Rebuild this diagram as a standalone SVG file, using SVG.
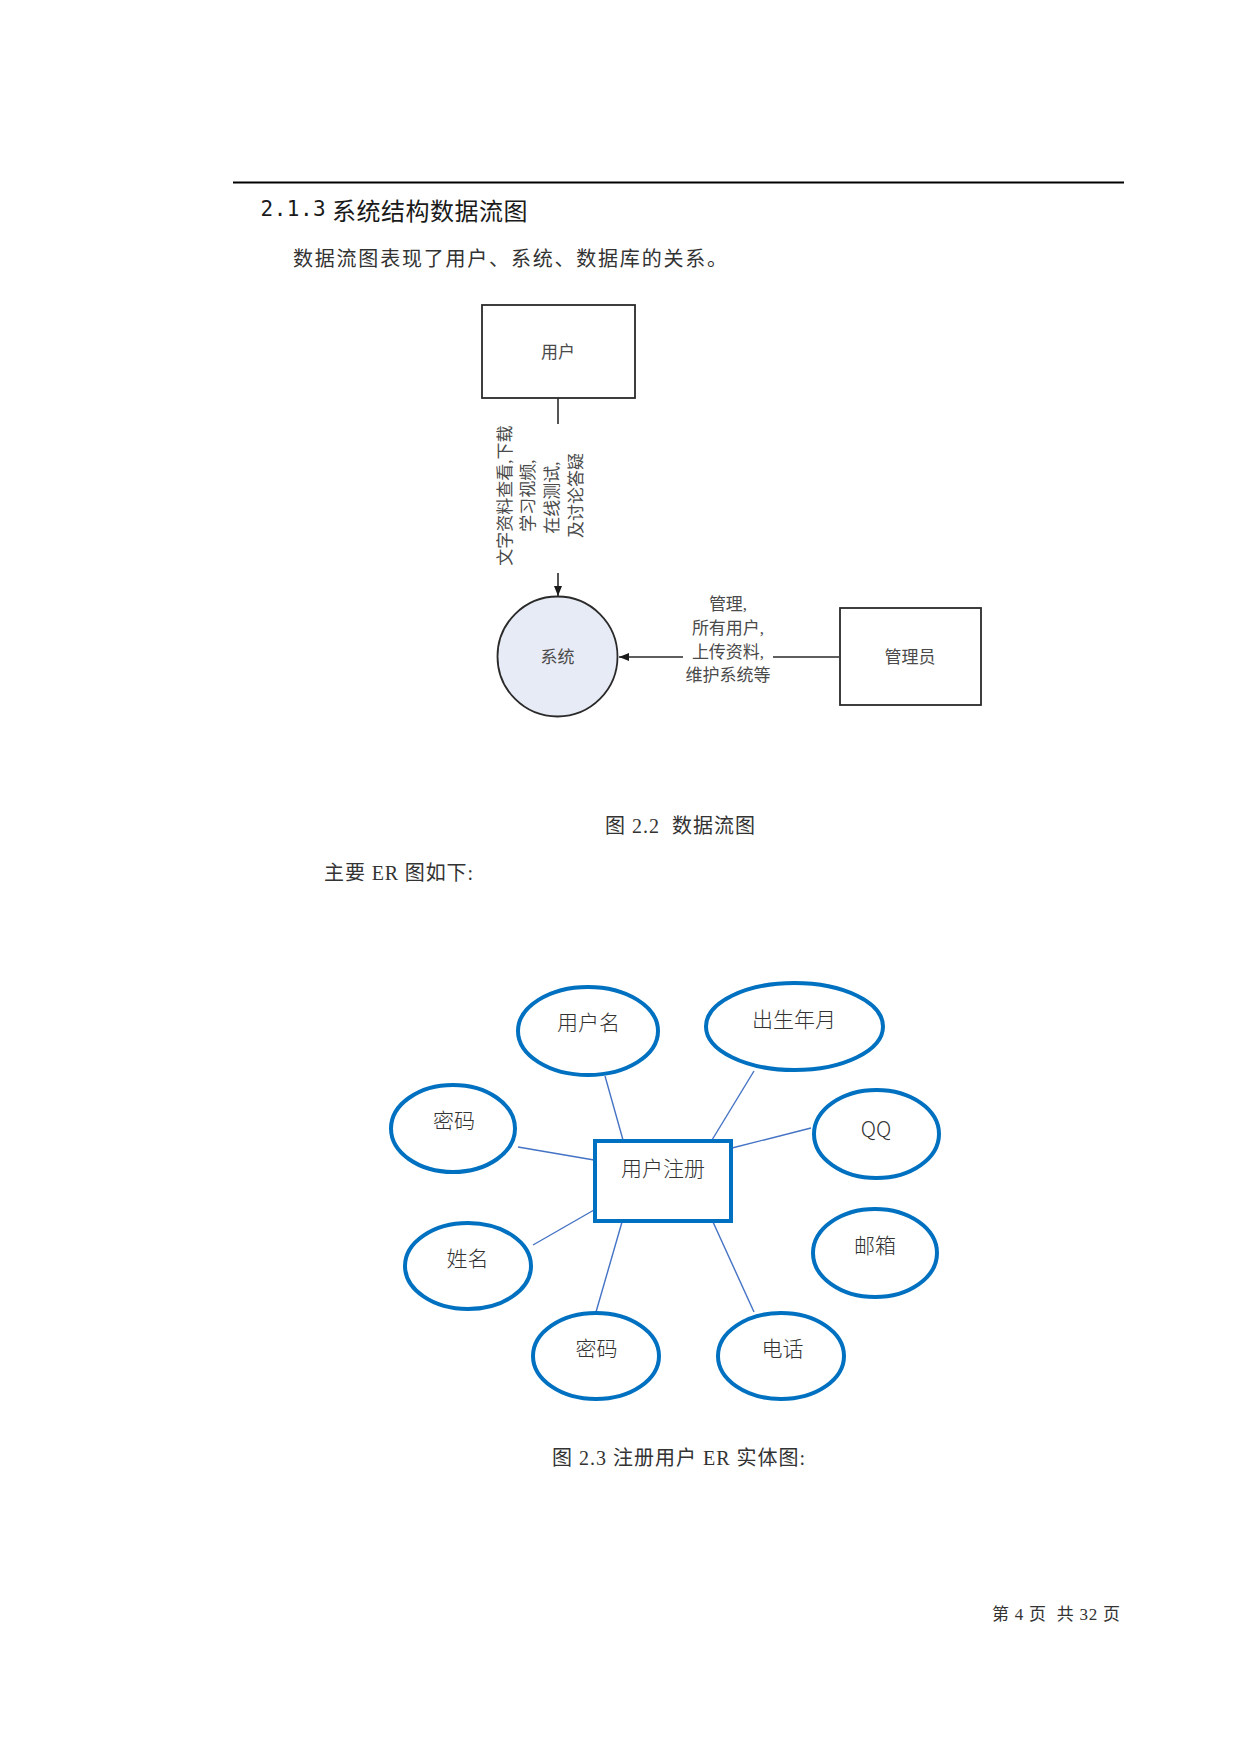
<svg xmlns="http://www.w3.org/2000/svg" width="1241" height="1754" viewBox="0 0 1241 1754">
<style>
.cjk{font-family:"Noto Sans CJK SC","Noto Sans",sans-serif}
.ser{font-family:"Liberation Serif","Noto Sans CJK SC",serif}
.dfd{font-family:"Liberation Serif","Noto Sans CJK SC",serif;font-size:17px;fill:#4a4a4a}
.box{fill:#fff;stroke:#2a2a2a;stroke-width:1.8}
.ell{fill:#fff;stroke:#0070C0;stroke-width:4}
.erl{font-family:"Noto Sans CJK SC","Noto Sans",sans-serif;font-size:21px;font-weight:300;fill:#333}
.ln{stroke:#2a2a2a;stroke-width:1.6;fill:none}
.erln{stroke:#4472C4;stroke-width:1.4;fill:none}
text{dominant-baseline:central}
</style>
<defs>
<marker id="arr" markerUnits="userSpaceOnUse" markerWidth="10" markerHeight="10" viewBox="0 0 10 10" refX="10" refY="5" orient="auto">
<path d="M0,1 L10,5 L0,9 Z" fill="#1a1a1a"/>
</marker>
</defs>
<rect width="1241" height="1754" fill="#fff"/>

<g id="header">
<line x1="233" y1="182.5" x2="1124" y2="182.5" stroke="#000" stroke-width="2.2"/>
<text x="260.5" y="209" font-size="24" fill="#1a1a1a" textLength="267" lengthAdjust="spacing"><tspan font-family="DejaVu Sans Mono,monospace" font-size="21">2.1.3</tspan><tspan class="cjk"> 系统结构数据流图</tspan></text>
<text class="cjk" x="293" y="257" font-size="20" fill="#333" textLength="434" lengthAdjust="spacing">数据流图表现了用户、系统、数据库的关系。</text>
</g>

<g id="connectors">
<line class="ln" x1="558" y1="398" x2="558" y2="424"/>
<line class="ln" x1="558" y1="573" x2="558" y2="596" marker-end="url(#arr)"/>
<line class="ln" x1="839" y1="657" x2="773" y2="657"/>
<line class="ln" x1="683" y1="657" x2="619" y2="657" marker-end="url(#arr)"/>
<line class="erln" x1="605" y1="1076" x2="623" y2="1140"/>
<line class="erln" x1="754" y1="1071" x2="712" y2="1140"/>
<line class="erln" x1="518" y1="1147" x2="594" y2="1160"/>
<line class="erln" x1="811" y1="1128" x2="732" y2="1148"/>
<line class="erln" x1="533" y1="1245" x2="594" y2="1210"/>
<line class="erln" x1="596" y1="1312" x2="622" y2="1222"/>
<line class="erln" x1="754" y1="1312" x2="713" y2="1222"/>
</g>

<g id="dfd-labels">
<text class="dfd" transform="translate(505,495.5) rotate(-90)" text-anchor="middle">文字资料查看,下载</text>
<text class="dfd" transform="translate(528,495.5) rotate(-90)" text-anchor="middle">学习视频,</text>
<text class="dfd" transform="translate(552,497.5) rotate(-90)" text-anchor="middle">在线测试,</text>
<text class="dfd" transform="translate(576,495.5) rotate(-90)" text-anchor="middle">及讨论答疑</text>
<text class="dfd" x="728" y="604" text-anchor="middle">管理,</text>
<text class="dfd" x="728" y="628" text-anchor="middle">所有用户,</text>
<text class="dfd" x="728" y="652" text-anchor="middle">上传资料,</text>
<text class="dfd" x="728" y="675" text-anchor="middle">维护系统等</text>
</g>

<g id="node-user">
<rect class="box" x="482" y="305" width="153" height="93"/>
<text class="dfd" x="558" y="352" text-anchor="middle" font-size="16">用户</text>
</g>
<g id="node-system">
<circle cx="557.5" cy="656.5" r="60" fill="#e7ebf5" stroke="#2a2a2a" stroke-width="1.8"/>
<text class="dfd" x="557.5" y="657" text-anchor="middle">系统</text>
</g>
<g id="node-admin">
<rect class="box" x="840" y="608" width="141" height="97"/>
<text class="dfd" x="910" y="657" text-anchor="middle">管理员</text>
</g>

<g id="captions">
<text class="ser" x="605" y="826" font-size="20" fill="#333" xml:space="preserve" textLength="150" lengthAdjust="spacing">图 2.2  数据流图</text>
<text class="ser" x="324" y="873" font-size="20" fill="#333" textLength="149" lengthAdjust="spacing">主要 ER 图如下:</text>
<text class="ser" x="552" y="1458" font-size="20" fill="#333" textLength="253" lengthAdjust="spacing">图 2.3 注册用户 ER 实体图:</text>
<text class="ser" x="992" y="1614" font-size="17" fill="#333" xml:space="preserve" textLength="128" lengthAdjust="spacing">第 4 页  共 32 页</text>
</g>

<g id="er-entity">
<rect x="595" y="1141" width="136" height="80" fill="#fff" stroke="#0070C0" stroke-width="4"/>
<text class="erl" x="663" y="1167" text-anchor="middle">用户注册</text>
</g>
<g id="er-username">
<ellipse class="ell" cx="588" cy="1031" rx="70" ry="44"/>
<text class="erl" x="588.5" y="1021" text-anchor="middle">用户名</text>
</g>
<g id="er-birth">
<ellipse class="ell" cx="794.5" cy="1026.5" rx="88.5" ry="43.5"/>
<text class="erl" x="794" y="1018" text-anchor="middle">出生年月</text>
</g>
<g id="er-password1">
<ellipse class="ell" cx="453" cy="1128.5" rx="62" ry="43.5"/>
<text class="erl" x="454" y="1119" text-anchor="middle">密码</text>
</g>
<g id="er-qq">
<ellipse class="ell" cx="876.5" cy="1134" rx="62.5" ry="44"/>
<text class="erl" x="876" y="1128" text-anchor="middle">QQ</text>
</g>
<g id="er-name">
<ellipse class="ell" cx="468" cy="1266" rx="63" ry="43"/>
<text class="erl" x="467.5" y="1257" text-anchor="middle">姓名</text>
</g>
<g id="er-email">
<ellipse class="ell" cx="875" cy="1253" rx="62" ry="44"/>
<text class="erl" x="875" y="1244" text-anchor="middle">邮箱</text>
</g>
<g id="er-password2">
<ellipse class="ell" cx="596" cy="1356" rx="63" ry="43"/>
<text class="erl" x="596.5" y="1347" text-anchor="middle">密码</text>
</g>
<g id="er-phone">
<ellipse class="ell" cx="781" cy="1356" rx="63" ry="43"/>
<text class="erl" x="782.5" y="1347" text-anchor="middle">电话</text>
</g>
</svg>
